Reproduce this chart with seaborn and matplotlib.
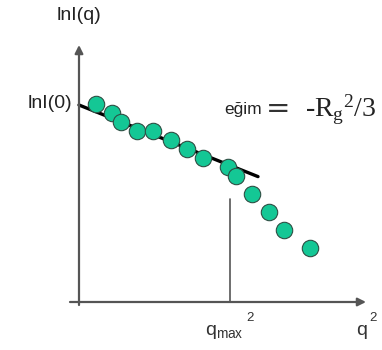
import matplotlib
matplotlib.use("Agg")
import matplotlib.pyplot as plt
import seaborn as sns
import pandas as pd

# Guinier plot: ln I(q) versus q^2 (arbitrary units)
q2 = [1.7, 3.3, 4.2, 5.8, 7.4, 9.2, 10.8, 12.4, 14.9, 15.7, 17.3, 19.0, 20.5, 23.1]
lnI = [19.8, 18.9, 18.0, 17.1, 17.1, 16.2, 15.3, 14.4, 13.5, 12.6, 10.8, 9.0, 7.2, 5.4]

# linear Guinier fit: intercept lnI(0), slope -Rg^2/3
fit_intercept = 19.7
fit_slope = -0.40
fit_range = [0.0, 17.9]

# q_max^2 limit of the Guinier region
q2_max = 15.1
q2_max_top = 10.3

sns.set_theme(style="white")
plt.rcParams["font.family"] = ["Liberation Sans", "DejaVu Sans"]
plt.rcParams["mathtext.fontset"] = "custom"
plt.rcParams["mathtext.rm"] = "Liberation Serif"
plt.rcParams["mathtext.it"] = "Liberation Serif:italic"
plt.rcParams["mathtext.sf"] = "Liberation Sans"

fig = plt.figure(figsize=(3.82, 3.5), dpi=100)
ax = fig.add_axes([0, 0, 1, 1])

axis_color = "#555555"
text_color = "#222222"

# axes with arrow heads
ax.annotate("", xy=(28.7, 0), xytext=(-0.9, 0),
            arrowprops=dict(arrowstyle="-|>", color=axis_color, lw=1.6,
                            mutation_scale=12, shrinkA=0, shrinkB=0))
ax.annotate("", xy=(0, 25.7), xytext=(0, -0.3),
            arrowprops=dict(arrowstyle="-|>", color=axis_color, lw=1.6,
                            mutation_scale=12, shrinkA=0, shrinkB=0))

# fit line
fit_df = pd.DataFrame({"q2": fit_range,
                       "lnI": [fit_intercept + fit_slope * x for x in fit_range]})
sns.lineplot(data=fit_df, x="q2", y="lnI", ax=ax, color="black", lw=2.4, zorder=2)

# data points
df = pd.DataFrame({"q2": q2, "lnI": lnI})
sns.scatterplot(data=df, x="q2", y="lnI", ax=ax, s=140, color="#14c795",
                edgecolor="#2e4f44", linewidth=0.8, zorder=3)

# q_max^2 marker
ax.plot([q2_max, q2_max], [0, q2_max_top], color=axis_color, lw=1.2, zorder=1)

ax.set_xlim(-7.9, 30.3)
ax.set_ylim(-4.8, 30.2)
ax.set_xlabel("")
ax.set_ylabel("")
ax.axis("off")

ax.text(0, 28.6, "lnI(q)", ha="center", va="center", fontsize=14, color=text_color)
ax.text(-0.7, fit_intercept + 0.1, "lnI(0)", ha="right", va="center",
        fontsize=14, color=text_color)

# slope annotation
ax.text(14.5, 18.8, "eğim", ha="left", va="baseline", fontsize=12.5, color=text_color)
ax.text(19.9, 18.5, "=", ha="center", va="baseline", fontsize=21,
        family="DejaVu Sans", color="#333333")
ax.text(22.6, 18.5, r"-R${}_{\mathrm{g}}$${}^{\mathrm{2}}$/3", ha="left",
        va="baseline", fontsize=20, family="Liberation Serif", color=text_color)

# x-axis labels
ax.text(12.6, -3.3, r"$\mathsf{q_{max}}$", ha="left", va="baseline",
        fontsize=14, color="#333333")
ax.text(16.7, -1.9, "2", ha="left", va="baseline", fontsize=9.5, color="#333333")
ax.text(27.7, -3.3, "q", ha="left", va="baseline", fontsize=14, color="#333333")
ax.text(29.0, -1.9, "2", ha="left", va="baseline", fontsize=9.5, color="#333333")

fig.savefig("out.png", dpi=100)
